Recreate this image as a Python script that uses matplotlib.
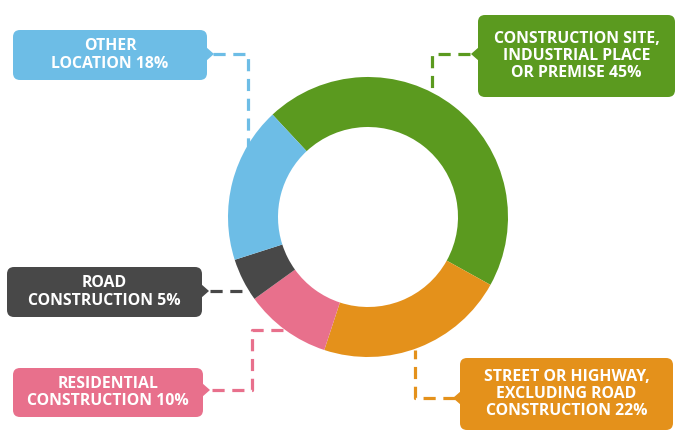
# donut chart of where construction-related incidents happened, with callout labels

import matplotlib.pyplot as plt
from matplotlib.patches import FancyBboxPatch, Polygon

# Data
locations = ['CONSTRUCTION SITE,\nINDUSTRIAL PLACE\nOR PREMISE',
             'STREET OR HIGHWAY,\nEXCLUDING ROAD\nCONSTRUCTION',
             'RESIDENTIAL\nCONSTRUCTION',
             'ROAD\nCONSTRUCTION',
             'OTHER\nLOCATION']
shares = [45, 22, 10, 5, 18]
colors = ['#5b9a1f', '#e4911b', '#e8708c', '#484848', '#6dbde6']

W, H = 678, 434


def fy(p):
    # work in pixel units measured from the top edge
    return H - p


# callout layout: box (x0, y0, x1, y1), side of the pointer, dashed connector path
callouts = [
    dict(box=(478, 15, 675, 97), side='left', path=[(470, 54), (432, 54), (432, 100)]),
    dict(box=(460, 358, 673, 430), side='left', path=[(455, 398), (415, 398), (415, 350)]),
    dict(box=(13, 368, 203, 417), side='right', path=[(212, 390), (252, 390), (252, 330), (285, 330)]),
    dict(box=(7, 267, 202, 317), side='right', path=[(210, 291), (250, 291)]),
    dict(box=(13, 30, 207, 80), side='right', path=[(213, 54), (248, 54), (248, 148)]),
]

fig = plt.figure(figsize=(W / 100, H / 100), dpi=100)
ax = fig.add_axes([0, 0, 1, 1])

ax.pie(shares, colors=colors, startangle=133, counterclock=False,
       radius=140, center=(368, fy(217)), frame=True,
       wedgeprops=dict(width=50, edgecolor='none', zorder=3))

for name, share, col, c in zip(locations, shares, colors, callouts):
    x0, y0, x1, y1 = c['box']
    ax.add_patch(FancyBboxPatch((x0 + 6, fy(y1) + 6), (x1 - x0) - 12, (y1 - y0) - 12,
                                boxstyle='round,pad=6,rounding_size=7',
                                fc=col, ec='none', zorder=4))
    ym = fy(c['path'][0][1])
    if c['side'] == 'left':
        tri = [(x0 + 1, ym + 7), (x0 - 7, ym), (x0 + 1, ym - 7)]
    else:
        tri = [(x1 - 1, ym + 7), (x1 + 7, ym), (x1 - 1, ym - 7)]
    ax.add_patch(Polygon(tri, closed=True, fc=col, ec='none', zorder=4))

    xs = [p[0] for p in c['path']]
    ys = [fy(p[1]) for p in c['path']]
    ax.plot(xs, ys, color=col, lw=2.3, ls=(0, (3.8, 2.4)), zorder=2,
            solid_capstyle='butt', dash_capstyle='butt')

    ax.text((x0 + x1) / 2, fy((y0 + y1) / 2), f'{name} {share}%',
            ha='center', va='center', color='white', fontsize=11.4,
            fontfamily='Open Sans', fontweight='bold', linespacing=1.12,
            zorder=5)

ax.set_xlim(0, W)
ax.set_ylim(0, H)
ax.set_aspect('equal')
ax.axis('off')

fig.savefig('out.png', dpi=100, facecolor='white')
